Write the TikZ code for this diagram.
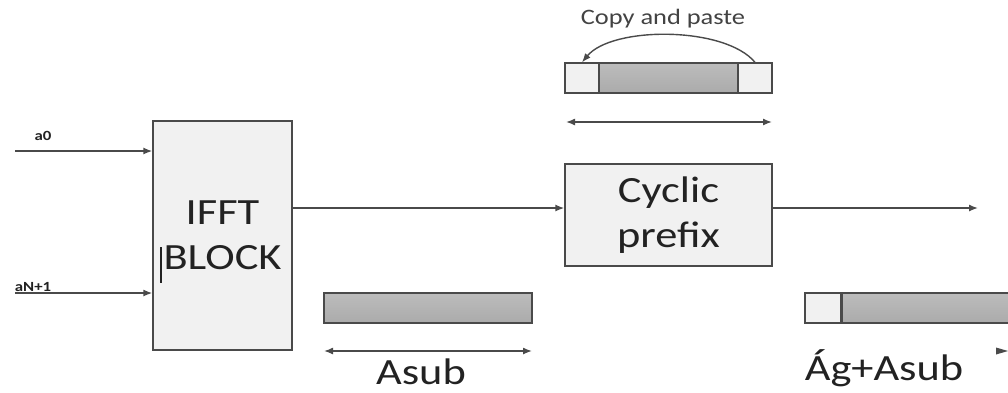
\documentclass[tikz,border=0pt]{standalone}
\usepackage{fontspec}
\setmainfont{Carlito}[FakeStretch=1.2]
\usetikzlibrary{arrows.meta}
\definecolor{linec}{HTML}{4A4A4A}
\definecolor{boxfill}{HTML}{F1F1F1}
\definecolor{barfill}{HTML}{ABABAB}
\definecolor{txt}{HTML}{222222}
\tikzset{
  blockbox/.style={draw=linec, line width=1.4pt, fill=boxfill, inner sep=0pt, align=center,
     text=txt, font=\fontsize{37}{45}\selectfont},
  graybar/.style={draw=linec, line width=1.3pt, top color=barfill!80, bottom color=barfill, middle color=barfill!90, inner sep=0pt},
  whitebar/.style={draw=linec, line width=1.3pt, fill=boxfill, inner sep=0pt},
  arr/.style={draw=linec, line width=1.4pt, -{Latex[length=9pt,width=7pt]}},
  darr/.style={draw=linec, line width=1.4pt, {Latex[length=9pt,width=7pt]}-{Latex[length=9pt,width=7pt]}},
  small/.style={text=txt, font=\fontsize{14}{16}\selectfont\bfseries, inner sep=0pt},
  big/.style={text=txt, font=\fontsize{37}{40}\selectfont, inner sep=0pt},
}
\begin{document}
\begin{tikzpicture}[x=1pt,y=-1pt]
\useasboundingbox (0,0) rectangle (1008,392);
\clip (0,0) rectangle (1008,392);
\fill[white] (0,0) rectangle (1008,392);

% IFFT block
\node[blockbox, minimum width=139pt, minimum height=229pt] (ifft) at (222.5,235.5) {IFFT\\BLOCK};
\draw[txt, line width=1.1pt] (161,247) -- (161,283);

% inputs
\coordinate (a0s) at (15,151);
\coordinate (aNs) at (15,293);
\draw[arr] (a0s) -- (ifft.west |- a0s);
\draw[arr] (aNs) -- (ifft.west |- aNs);
\node[small, anchor=base] (a0l) at (43,140) {a0};
\node[small, anchor=base] (aNl) at (33,291) {aN+1};

% cyclic prefix
\node[blockbox, minimum width=207pt, minimum height=102pt] (cp) at (668.5,215) {Cyclic\\prefix};
\draw[arr] (ifft.east |- 0,208) -- (cp.west |- 0,208);
\coordinate (outE) at (978,208);
\draw[arr] (cp.east |- 0,208) -- (outE);

% top bar
\node[whitebar, minimum width=34pt, minimum height=30pt] (tL) at (582,78) {};
\node[graybar, minimum width=139pt, minimum height=30pt] (tM) at (668.5,78) {};
\node[whitebar, minimum width=34pt, minimum height=30pt] (tR) at (755,78) {};
\draw[arr] (tR.north) .. controls (725,26) and (612,26) .. (tL.north);
\node[text=txt!85!white, font=\fontsize{22}{24}\selectfont, inner sep=0pt, anchor=base] (cap) at (663,24) {Copy and paste};
\coordinate (dtL) at (566,122);
\coordinate (dtR) at (772,122);
\draw[darr] (dtL) -- (dtR);

% Asub bar
\node[graybar, minimum width=208pt, minimum height=30pt] (asb) at (428,308) {};
\coordinate (daL) at (324,351);
\coordinate (daR) at (532,351);
\draw[darr] (daL) -- (daR);
\node[big, anchor=base] (asubl) at (421,384) {Asub};

% output bar
\node[whitebar, minimum width=36pt, minimum height=30pt] (oL) at (823,308) {};
\node[graybar, minimum width=180pt, minimum height=30pt, anchor=west] (oM) at (oL.east) {};
\node[big, anchor=base] (agl) at (884,380) {Ág+Asub};
\fill[linec] (996,347.5) -- (1008,351) -- (996,354.5) -- cycle;
\end{tikzpicture}
\end{document}
